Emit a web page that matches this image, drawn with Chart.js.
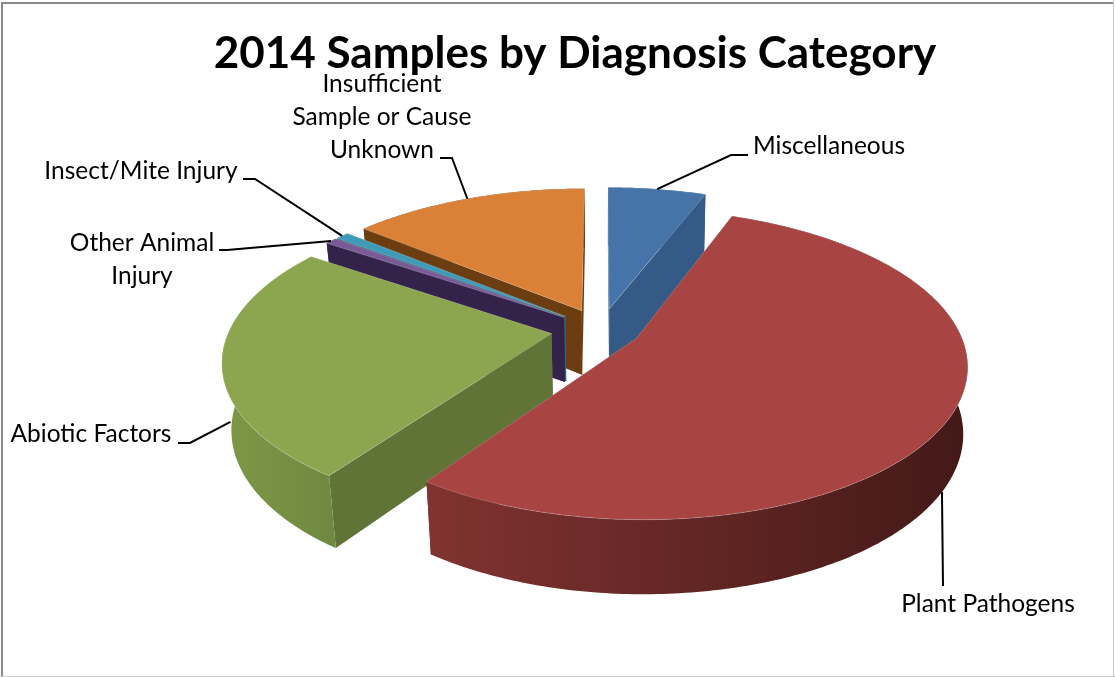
<!DOCTYPE html>
<html>
<head>
<meta charset="utf-8">
<title>2014 Samples by Diagnosis Category</title>
<script src="https://cdn.jsdelivr.net/npm/chart.js@4"></script>
<style>
    html, body { margin: 0; padding: 0; background: #fff; }
    canvas { display: block; }
</style>
</head>
<body>
<canvas id="diagnosis-pie" width="1115" height="677"></canvas>
<script>
// Share of samples per diagnosis category, clockwise from 12 o'clock
const categories = ['Miscellaneous', 'Plant Pathogens', 'Abiotic Factors', 'Other Animal Injury', 'Insect/Mite Injury', 'Insufficient Sample or Cause Unknown'];
const shares = [5.8, 53.9, 24.8, 0.7, 0.8, 14.0];

// Face colours for each slice
const topColors = ['#4674a8', '#a84441', '#8ba64e', '#7a5a96', '#3f9ab7', '#da8137'];
const cutColors = ['#355a85', '#6f2b29', '#5f7436', '#33234a', '#2a6a80', '#6b3d11'];
const wallStart = ['#355a85', '#813331', '#7e9847', '#33234a', '#2a6a80', '#6b3d11'];
const wallEnd = ['#355a85', '#431917', '#6f8a40', '#33234a', '#2a6a80', '#6b3d11'];

// How far each slice is pulled out of the pie
const sliceOffsets = [46, 40, 50, 46, 46, 46];

const LABEL_FONT = '24.5px Lato, sans-serif';
const LINE_HEIGHT = 33;

// Tilted view of the pie: vertical squash, perspective and extrusion depth
const VIEW = { shiftX: 26, shiftY: 0, squash: 0.46, distance: 6, depth: 67, shrinkLeft: 0.025, shrinkRight: 0.012 };

// Label text blocks and their leader lines; `along` is the position on the slice rim
const labelLayout = [
    { lines: ['Miscellaneous'], x: 829, y: 146, along: 0.5, z: 0, bend: [[731, 155], [748, 155]] },
    { lines: ['Plant Pathogens'], x: 988, y: 604, along: 0.514, z: 1, bend: [[943, 586]] },
    { lines: ['Abiotic Factors'], x: 91, y: 434, along: 0.5, z: 0.9, bend: [[190, 443], [178, 443]] },
    { lines: ['Other Animal', 'Injury'], x: 142, y: 243, along: 0.5, z: 0, bend: [[227, 250], [219, 250]] },
    { lines: ['Insect/Mite Injury'], x: 141, y: 171, along: 0.5, z: 0, bend: [[255, 179], [243, 179]] },
    { lines: ['Insufficient', 'Sample or Cause', 'Unknown'], x: 382, y: 84, along: 0.5, z: 0, bend: [[452, 158], [440, 158]] },
];

function projector(arc) {
    const centerX = arc.x + VIEW.shiftX;
    const centerY = arc.y + VIEW.shiftY;
    const radius = arc.outerRadius;
    const mid = (arc.startAngle + arc.endAngle) / 2;
    const offsetX = Math.cos(mid) * arc.options.offset;
    const offsetY = Math.sin(mid) * arc.options.offset;

    // dist 0 is the slice tip, dist 1 the rim; z 0 the top face, z 1 the bottom face
    return function (angle, dist, z) {
        const planeX = Math.cos(angle) * radius * dist + offsetX;
        const planeY = Math.sin(angle) * radius * dist + offsetY;
        const shrink = planeX > 0 ? VIEW.shrinkRight : VIEW.shrinkLeft;
        const perspective = 1 / (1 - planeY / radius / VIEW.distance);
        return [
            centerX + planeX * perspective * (1 - shrink * z),
            centerY + (planeY * VIEW.squash + VIEW.depth * z) * perspective * (1 - VIEW.shrinkLeft * z),
        ];
    };
}

function rimPoints(arc, project, z) {
    const points = [];
    const steps = Math.max(2, Math.ceil((arc.endAngle - arc.startAngle) / 0.015));
    for (let i = 0; i <= steps; i++) {
        const angle = arc.startAngle + (arc.endAngle - arc.startAngle) * i / steps;
        points.push(project(angle, 1, z));
    }
    return points;
}

function tracePolygon(ctx, points) {
    ctx.beginPath();
    points.forEach((p, i) => {
        if (i === 0) ctx.moveTo(p[0], p[1]);
        else ctx.lineTo(p[0], p[1]);
    });
    ctx.closePath();
}

function fillFace(ctx, points, fill) {
    tracePolygon(ctx, points);
    ctx.fillStyle = fill;
    ctx.fill();
}

function drawSlice(ctx, arc, index) {
    const project = projector(arc);
    const topRim = rimPoints(arc, project, 0);
    const bottomRim = rimPoints(arc, project, 1);
    const start = arc.startAngle;
    const end = arc.endAngle;

    // Cut faces running from the tip out to the rim
    [start, end].forEach((angle) => {
        fillFace(ctx, [project(angle, 0, 0), project(angle, 1, 0), project(angle, 1, 1), project(angle, 0, 1)], cutColors[index]);
    });

    // Curved outer wall, shaded left to right
    const xs = topRim.map((p) => p[0]);
    const wallFill = ctx.createLinearGradient(Math.min(...xs), 0, Math.max(...xs), 0);
    wallFill.addColorStop(0, wallStart[index]);
    wallFill.addColorStop(1, wallEnd[index]);
    fillFace(ctx, topRim.concat(bottomRim.slice().reverse()), wallFill);

    // Top face with a faint pale rim
    tracePolygon(ctx, [project(start, 0, 0)].concat(topRim));
    ctx.fillStyle = topColors[index];
    ctx.fill();
    ctx.strokeStyle = 'rgba(225,225,225,0.25)';
    ctx.lineWidth = 1;
    ctx.stroke();
}

function drawLabels(ctx, arcs) {
    ctx.save();
    ctx.font = LABEL_FONT;
    ctx.fillStyle = '#000';
    ctx.textAlign = 'center';
    ctx.textBaseline = 'middle';
    labelLayout.forEach((label, index) => {
        const arc = arcs[index];
        const angle = arc.startAngle + (arc.endAngle - arc.startAngle) * label.along;
        const anchor = projector(arc)(angle, 1, label.z);

        ctx.beginPath();
        ctx.moveTo(anchor[0], anchor[1]);
        label.bend.forEach((p) => ctx.lineTo(p[0], p[1]));
        ctx.strokeStyle = '#000';
        ctx.lineWidth = 2;
        ctx.stroke();

        label.lines.forEach((line, i) => ctx.fillText(line, label.x, label.y + i * LINE_HEIGHT));
    });
    ctx.restore();
}

// Replaces the flat arcs with extruded slices, drawn back to front
const tiltedPie = {
    id: 'tiltedPie',
    beforeDatasetDraw(chart, args) {
        const ctx = chart.ctx;
        const arcs = args.meta.data;
        const order = arcs.map((arc, index) => index).sort((a, b) => {
            const midA = (arcs[a].startAngle + arcs[a].endAngle) / 2;
            const midB = (arcs[b].startAngle + arcs[b].endAngle) / 2;
            return Math.sin(midA) - Math.sin(midB);
        });
        ctx.save();
        order.forEach((index) => drawSlice(ctx, arcs[index], index));
        ctx.restore();
        drawLabels(ctx, arcs);
        return false;
    },
};

// Outer frame of the chart
const chartFrame = {
    id: 'chartFrame',
    beforeDraw(chart) {
        const ctx = chart.ctx;
        const { width, height } = chart;
        ctx.save();
        ctx.fillStyle = '#fff';
        ctx.fillRect(0, 0, width, height);
        ctx.fillStyle = '#c9c9c9';
        ctx.fillRect(width - 2, 0, 1, height);
        ctx.fillRect(0, height - 1, width, 1);
        ctx.fillStyle = '#8a8a8a';
        ctx.fillRect(1, 2, 2, height - 3);
        ctx.fillRect(1, 2, width - 3, 2);
        ctx.restore();
    },
};

new Chart(document.getElementById('diagnosis-pie'), {
    type: 'pie',
    data: {
        labels: categories,
        datasets: [{
            data: shares,
            backgroundColor: topColors,
            offset: sliceOffsets,
            borderWidth: 0,
        }],
    },
    plugins: [chartFrame, tiltedPie],
    options: {
        responsive: false,
        animation: false,
        radius: 322,
        layout: { padding: { left: 35, bottom: 98 } },
        plugins: {
            legend: { display: false },
            tooltip: { enabled: false },
            title: {
                display: true,
                text: '2014 Samples by Diagnosis Category',
                color: '#000',
                font: { family: 'Lato, sans-serif', size: 44, weight: 'bold' },
                padding: { top: 27, bottom: 0 },
            },
        },
    },
});
</script>
</body>
</html>
